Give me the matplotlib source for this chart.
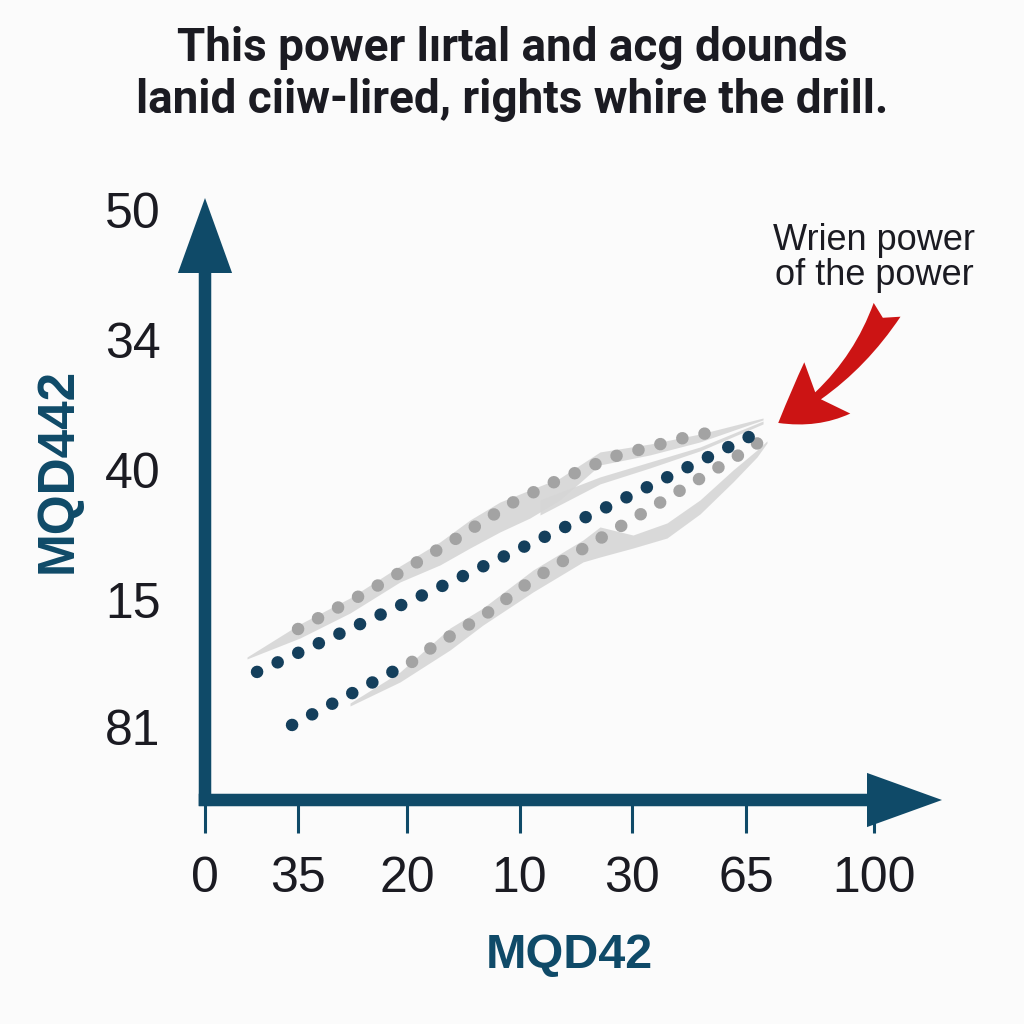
import matplotlib
matplotlib.use("Agg")
import matplotlib.pyplot as plt
from matplotlib.patches import FancyArrowPatch

# ---------------- data ----------------
title_lines = ["This power lırtal and acg dounds",
               "lanid ciiw-lired, rights whire the drill."]
x_label = "MQD42"
y_label = "MQD442"
annot_text = "Wrien power\nof the power"

x_tick_pos = [0, 13.8, 30.1, 46.8, 63.6, 80.5, 99.6]
x_tick_labels = ["0", "35", "20", "10", "30", "65", "100"]
y_tick_pos = [0.56, 1.54, 2.54, 3.54, 4.54]
y_tick_labels = ["81", "15", "40", "34", "50"]

# main dark dotted series
dark_x = [7.74, 34.97, 59.82, 82.14]
dark_y = [0.985, 1.638, 2.254, 2.823]

# lower series: dark start, then gray
low_dark_x = [12.95, 28.27]
low_dark_y = [0.577, 0.996]
low_gray_x = [30.80, 33.63, 41.82, 48.66, 56.40, 64.43, 72.32, 80.21, 83.18]
low_gray_y = [1.062, 1.169, 1.431, 1.692, 1.938, 2.185, 2.431, 2.677, 2.777]

# upper gray series
up_x = [13.84, 23.81, 29.91, 37.50, 45.68, 51.64, 60.57, 72.32, 76.64]
up_y = [1.315, 1.592, 1.777, 2.015, 2.285, 2.438, 2.638, 2.800, 2.838]

# shaded bands
bandA_x = [6.25, 14.14, 21.58, 29.02, 34.97, 39.43, 43.90, 48.36, 52.83, 58.78, 66.22, 73.66, 83.04]
bandA_hi = [1.100, 1.354, 1.554, 1.800, 1.985, 2.154, 2.292, 2.385, 2.477, 2.677, 2.738, 2.815, 2.938]
bandA_lo = [1.085, 1.246, 1.438, 1.677, 1.808, 1.938, 2.062, 2.169, 2.308, 2.577, 2.654, 2.754, 2.923]

bandB_x = [49.85, 58.78, 66.22, 73.66, 83.04]
bandB_hi = [2.308, 2.485, 2.600, 2.715, 2.915]
bandB_lo = [2.192, 2.431, 2.554, 2.685, 2.892]

bandC_x = [21.58, 29.02, 36.46, 41.37, 48.81, 56.25, 58.78, 63.69, 68.75, 73.66, 78.57, 82.14, 83.63]
bandC_hi = [0.746, 0.985, 1.323, 1.477, 1.769, 2.000, 2.100, 2.038, 2.131, 2.308, 2.538, 2.692, 2.762]
bandC_lo = [0.723, 0.908, 1.154, 1.346, 1.600, 1.831, 1.869, 1.938, 2.015, 2.200, 2.446, 2.638, 2.746]

annot_xy = (85.3, 2.90)
annot_from = (101.5, 3.77)
annot_text_xy = (99.6, 4.17)

# ---------------- style ----------------
BG = "#fbfbfb"
AXC = "#0f4a68"
DARK = "#143f5c"
GRAY = "#a3a3a3"
BAND = "#d6d6d6"
RED = "#cc1414"
TXT = "#1b1b22"

plt.rcParams['font.family'] = ['Liberation Sans', 'DejaVu Sans']

fig = plt.figure(figsize=(10.24, 10.24), dpi=100, facecolor=BG)
ax = fig.add_axes([205/1024, 224/1024, 737/1024, 602/1024])
ax.set_facecolor(BG)
ax.set_xlim(0, 109.67)
ax.set_ylim(0, 4.63)
for s in ax.spines.values():
    s.set_visible(False)

# bands
for bx, lo, hi in [(bandA_x, bandA_lo, bandA_hi), (bandB_x, bandB_lo, bandB_hi), (bandC_x, bandC_lo, bandC_hi)]:
    ax.fill_between(bx, lo, hi, color=BAND, lw=0, alpha=0.9, zorder=1)

dot_style = dict(lw=9, linestyle=(0, (0.01, 1.806)), dash_capstyle='round', zorder=3)
ax.plot(up_x, up_y, color=GRAY, **dot_style)
ax.plot(low_gray_x, low_gray_y, color=GRAY, **dot_style)
ax.plot(low_dark_x, low_dark_y, color=DARK, **dot_style)
ax.plot(dark_x, dark_y, color=DARK, **dot_style)

# axes arrows
for a, b in [((-0.0085, 0), (1, 0)), ((0, -0.01), (0, 1))]:
    arr = FancyArrowPatch(a, b, transform=ax.transAxes,
                          arrowstyle="simple,head_length=2.7,head_width=1.95,tail_width=0.45",
                          mutation_scale=20, color=AXC, lw=0, shrinkA=0, shrinkB=0,
                          clip_on=False, zorder=5)
    ax.add_patch(arr)

# ticks
ax.set_xticks(x_tick_pos, x_tick_labels)
ax.set_yticks(y_tick_pos, y_tick_labels)
ax.tick_params(axis='x', direction='out', length=24, width=2.2, color=AXC,
               pad=16, labelsize=36, labelcolor=TXT)
ax.tick_params(axis='y', length=0, pad=32, labelsize=36, labelcolor=TXT)

ax.set_xlabel(x_label, fontsize=35, fontweight='bold', color=AXC)
ax.set_ylabel(y_label, fontsize=37, fontweight='bold', color=AXC)
ax.xaxis.set_label_coords(0.495, -0.2575)
ax.yaxis.set_label_coords(-0.1995, 0.548)
ax.xaxis.label.set_va('center')
ax.yaxis.label.set_va('center')

# title
for i, yy in enumerate([48, 100]):
    fig.text(0.5, 1 - yy/1024, title_lines[i], ha='center', va='center',
             fontsize=33, fontweight='bold', color=TXT, family=['Roboto', 'DejaVu Sans'])

# annotation
ax.text(annot_text_xy[0], annot_text_xy[1], annot_text, ha='center', va='center',
        fontsize=26, color=TXT, linespacing=1.0, clip_on=False)
red = FancyArrowPatch(annot_from, annot_xy, transform=ax.transData,
                      arrowstyle="fancy,head_length=0.7,head_width=0.8,tail_width=0.35",
                      connectionstyle="arc3,rad=-0.15", mutation_scale=62,
                      color=RED, lw=0, shrinkA=0, shrinkB=0, clip_on=False, zorder=6)
ax.add_patch(red)

fig.savefig("out.png", dpi=100, facecolor=BG)
